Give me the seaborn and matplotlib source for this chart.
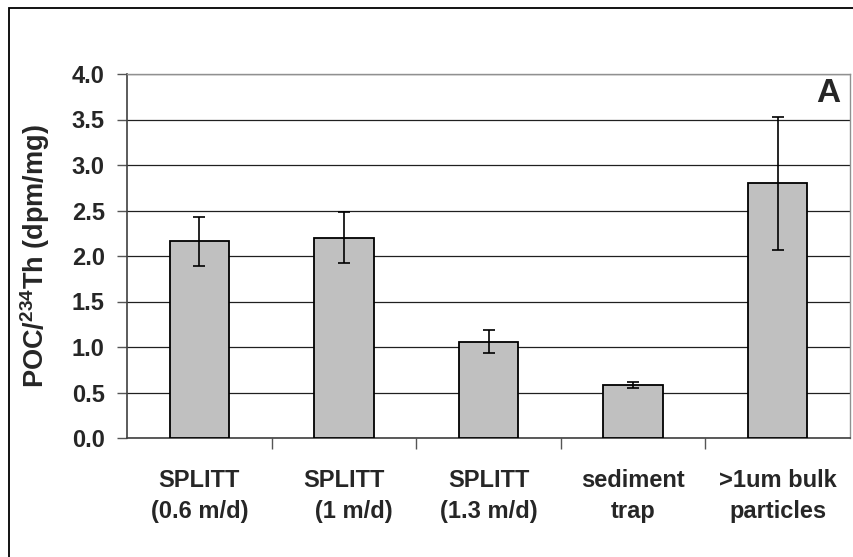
import matplotlib
matplotlib.use("Agg")
import matplotlib.pyplot as plt
import seaborn as sns
import pandas as pd
from matplotlib.patches import Rectangle

categories = ["SPLITT\n(0.6 m/d)", "SPLITT\n   (1 m/d)", "SPLITT\n(1.3 m/d)", "sediment\ntrap", ">1um bulk\nparticles"]
values = [2.16, 2.20, 1.06, 0.58, 2.80]
errors = [0.27, 0.28, 0.13, 0.035, 0.73]
yticks = [0.0, 0.5, 1.0, 1.5, 2.0, 2.5, 3.0, 3.5, 4.0]

sns.set_theme(style="white")
plt.rcParams['font.family'] = ['Liberation Sans', 'DejaVu Sans']
plt.rcParams['mathtext.default'] = 'regular'

FS = 17

df = pd.DataFrame({"cat": categories, "val": values})

fig = plt.figure(figsize=(8.54, 5.57), dpi=100)
ax = fig.add_axes([127/854, 1-438/557, (850-127)/854, (438-74)/557])

sns.barplot(data=df, x="cat", y="val", color="#c0c0c0", edgecolor="black",
            linewidth=1.3, width=0.41, errorbar=None, saturation=1, ax=ax, zorder=3)
ax.errorbar(range(len(values)), values, yerr=errors, fmt="none", ecolor="black",
            elinewidth=1.2, capsize=4.5, capthick=1.2, zorder=4)

ax.set_ylim(0, 4.0)
ax.set_xlim(-0.5, len(values) - 0.5)
ax.set_yticks(yticks)
ax.set_yticklabels([f"{t:.1f}" for t in yticks], fontsize=FS, fontweight="bold")
ax.yaxis.grid(True, color="#202020", linewidth=0.9, zorder=0)
ax.set_axisbelow(True)

# x ticks at category boundaries, labels centered on categories
ax.set_xticks([i + 0.5 for i in range(len(values) - 1)])
ax.set_xticklabels([])
ax.set_xticks(range(len(values)), minor=True)
ax.set_xticklabels(categories, minor=True, fontsize=FS, fontweight="bold", linespacing=1.45)
ax.tick_params(axis="x", which="major", direction="out", length=8, width=1, color="#555555", bottom=True)
ax.tick_params(axis="x", which="minor", length=0, pad=22, bottom=True)
ax.tick_params(axis="y", direction="out", length=7, width=1, color="#555555", left=True, pad=9)

ax.set_xlabel("")
ax.set_ylabel("POC/$^{234}$Th (dpm/mg)", fontsize=19.5, fontweight="bold")
ax.yaxis.set_label_coords((52-127)/(850-127), 0.5)

for side in ["left", "bottom"]:
    ax.spines[side].set_color("#404040")
    ax.spines[side].set_linewidth(1.2)
for side in ["top", "right"]:
    ax.spines[side].set_visible(True)
    ax.spines[side].set_color("#909090")
    ax.spines[side].set_linewidth(1.0)

ax.text((828-127)/(850-127), 1-(94-74)/(438-74), "A", transform=ax.transAxes,
        ha="center", va="center", fontsize=24, fontweight="bold")

# outer chart frame
fig.patches.append(Rectangle((9/854, -0.05), 1.2, 1 - 8/557 + 0.05,
                             transform=fig.transFigure, fill=False,
                             edgecolor="black", linewidth=1.3))

fig.savefig("out.png", dpi=100)
